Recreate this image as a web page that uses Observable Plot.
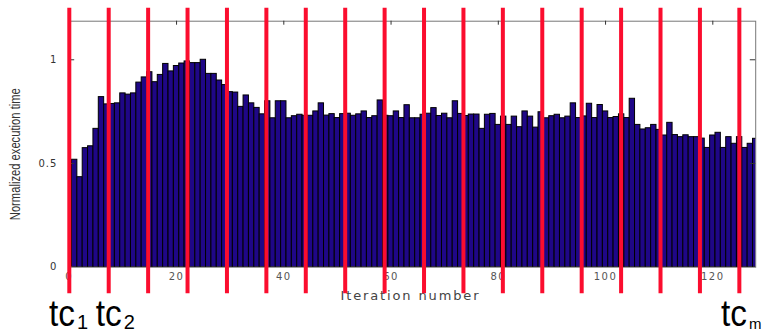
<!DOCTYPE html>
<html>
<head>
<meta charset="utf-8">
<script src="https://cdn.jsdelivr.net/npm/d3@7"></script>
<script src="https://cdn.jsdelivr.net/npm/@observablehq/plot@0.6"></script>
<style>
  html, body { margin: 0; padding: 0; background: #fff; }
  #chart svg { display: block; }
</style>
</head>
<body>
<div id="chart"></div>
<script>
// Normalized execution time per iteration (iterations 1..128)
const values = [
  0.518, 0.434, 0.574, 0.583, 0.667, 0.820, 0.785, 0.787, 0.790, 0.838,
  0.832, 0.838, 0.890, 0.915, 0.940, 0.892, 0.927, 0.980, 0.944, 0.970,
  0.982, 0.992, 0.984, 0.984, 1.000, 0.932, 0.932, 0.900, 0.878, 0.844,
  0.842, 0.773, 0.828, 0.790, 0.768, 0.737, 0.800, 0.718, 0.800, 0.800,
  0.718, 0.728, 0.735, 0.730, 0.730, 0.751, 0.790, 0.731, 0.738, 0.719,
  0.738, 0.740, 0.730, 0.737, 0.751, 0.719, 0.728, 0.804, 0.730, 0.728,
  0.751, 0.719, 0.781, 0.718, 0.718, 0.735, 0.740, 0.767, 0.729, 0.740,
  0.718, 0.800, 0.739, 0.729, 0.736, 0.736, 0.667, 0.735, 0.739, 0.686,
  0.726, 0.686, 0.726, 0.675, 0.751, 0.726, 0.673, 0.747, 0.718, 0.728,
  0.735, 0.718, 0.726, 0.790, 0.719, 0.727, 0.788, 0.719, 0.782, 0.751,
  0.719, 0.724, 0.737, 0.719, 0.812, 0.686, 0.664, 0.670, 0.686, 0.662,
  0.635, 0.696, 0.637, 0.627, 0.636, 0.627, 0.627, 0.620, 0.575, 0.635,
  0.648, 0.575, 0.627, 0.595, 0.627, 0.575, 0.595, 0.619
];

// Red vertical markers (iteration positions of tc_1 ... tc_m)
const cutLines = [0, 7.35, 14.7, 22.05, 29.4, 36.75, 44.1, 51.45, 58.8,
  66.15, 73.5, 80.85, 88.2, 95.55, 102.9, 110.25, 117.6, 124.95];

const xTicks = [0, 20, 40, 60, 80, 100, 120];
const yTicks = [0, 0.5, 1];

const tcBase = ["tc", "tc", "tc"];
const tcSub = ["1", "2", "m"];
const tcAt = [1.15, 9.87, 126.47];

const xLabel = "Iteration number";
const yLabel = "Normalized execution time";

const data = values.map((v, i) => ({iter: i + 1, value: v}));

const chart = Plot.plot({
  width: 763,
  height: 333,
  marginLeft: 68.8,
  marginRight: 7.8,
  marginTop: 20.7,
  marginBottom: 66.3,
  style: {background: "#fff", fontFamily: "DejaVu Sans", fontSize: "10px"},
  x: {domain: [0, 128]},
  y: {domain: [0, 1.186]},
  marks: [
    Plot.frame({stroke: "#777", strokeWidth: 1}),
    Plot.rectY(data, {
      x1: d => d.iter - 0.5,
      x2: d => d.iter + 0.5,
      y: "value",
      fill: "#1f0787",
      stroke: "#000",
      strokeWidth: 1,
      clip: true
    }),
    Plot.tickX(xTicks.slice(1), {x: d => d, insetBottom: 242, stroke: "#333"}),
    Plot.tickY(yTicks.slice(1), {y: d => d, insetRight: 681, stroke: "#333"}),
    Plot.tickY(yTicks.slice(1), {y: d => d, insetLeft: 681, stroke: "#333"}),
    Plot.axisX(xTicks, {
      anchor: "bottom", tickSize: 0, tickPadding: 6, label: null,
      tickFormat: d => String(d), fontSize: 10, fontFamily: "DejaVu Sans", fill: "#555"
    }),
    Plot.axisY(yTicks, {
      anchor: "left", tickSize: 0, tickPadding: 12, label: null,
      tickFormat: d => String(d), fontSize: 10, fontFamily: "DejaVu Sans", fill: "#333"
    }),
    Plot.text([xLabel], {
      frameAnchor: "bottom", lineAnchor: "bottom", textAnchor: "middle",
      dx: -3, dy: 33, fontSize: 13, fontFamily: "DejaVu Sans", fill: "#444"
    }),
    Plot.text([yLabel], {
      frameAnchor: "left", rotate: -90, textAnchor: "middle", lineAnchor: "middle",
      dx: -54, dy: 10, fontSize: 14, fontFamily: "Liberation Sans", fill: "#333"
    }),
    Plot.ruleX(cutLines, {
      x: d => d, stroke: "#fb0d2e", strokeWidth: 4, insetTop: -13, insetBottom: -26.5
    }),
    Plot.text(tcAt, {
      x: d => d, text: (d, i) => tcBase[i], frameAnchor: "bottom",
      textAnchor: "end", lineAnchor: "bottom", dy: 58.8, dx: -0.5, fontSize: 36,
      fontFamily: "Liberation Sans", fill: "#000"
    }),
    Plot.text(tcAt, {
      x: d => d, text: (d, i) => tcSub[i], frameAnchor: "bottom",
      textAnchor: "start", lineAnchor: "bottom", dy: 61.8, dx: 1.5, fontSize: 20,
      fontFamily: "Liberation Sans", fill: "#000"
    })
  ]
});

// Fit label text widths to the reference (condensed / expanded lettering)
const sel = d3.select(chart);
sel.selectAll("text").each(function() {
  const t = this.textContent;
  if (t === yLabel) d3.select(this).attr("textLength", 132).attr("lengthAdjust", "spacingAndGlyphs");
  if (t === xLabel) d3.select(this).attr("textLength", 138).attr("lengthAdjust", "spacing");
  if (t === "tc") d3.select(this).attr("textLength", 26).attr("lengthAdjust", "spacingAndGlyphs");
  if (t === "m") d3.select(this).attr("font-size", 15);
});
sel.selectAll('g[aria-label="x-axis tick label"] text').attr("letter-spacing", "1.5px");
sel.selectAll('g[aria-label="y-axis tick label"] text').attr("letter-spacing", "1px");

document.getElementById("chart").appendChild(chart);
</script>
</body>
</html>
